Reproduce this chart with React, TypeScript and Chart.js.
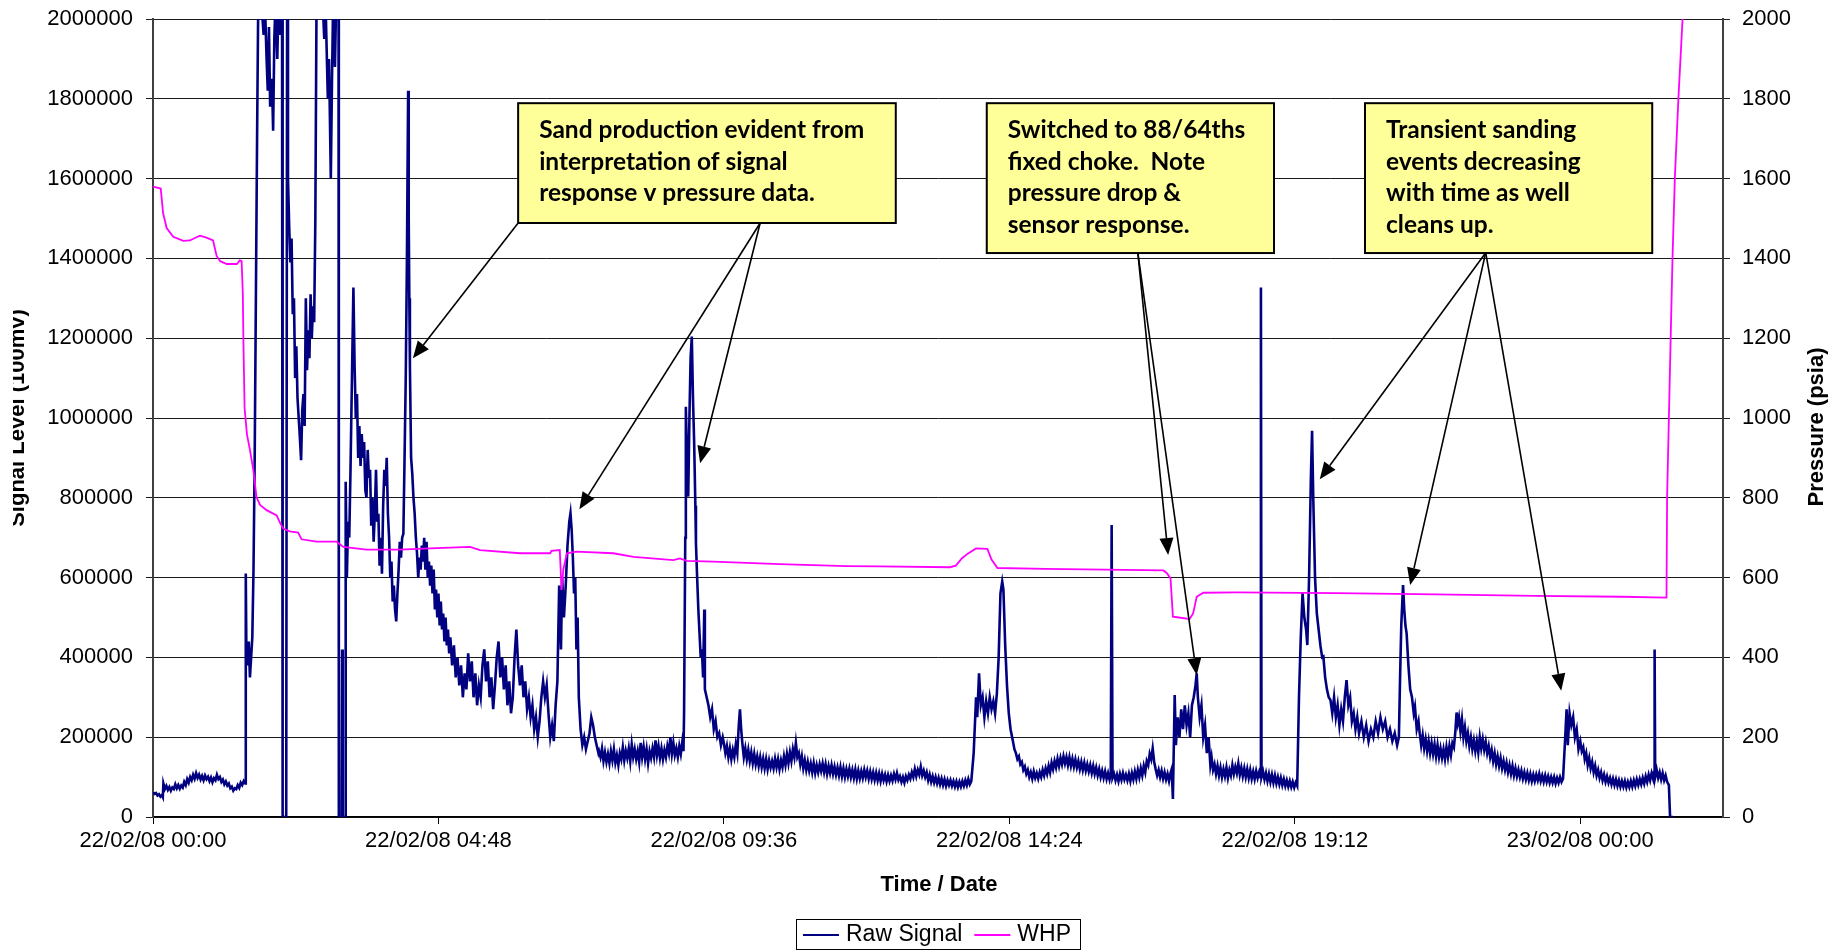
import React, { useEffect, useRef } from 'react';
import { Chart, registerables } from 'chart.js';

Chart.register(...registerables);

// x values are hours after 22/02/08 00:00
const xTickHours = [0, 4.8, 9.6, 14.4, 19.2, 24];
const xTickLabels = ['22/02/08 00:00', '22/02/08 04:48', '22/02/08 09:36', '22/02/08 14:24', '22/02/08 19:12', '23/02/08 00:00'];

// Raw Signal [hours, signal level (100mV)], split into time segments
const signalEarly: [number, number][] = [
  [0.000, 62000], [0.025, 58000], [0.050, 60000], [0.075, 54000], [0.100, 57000], [0.125, 51000], [0.150, 55000], [0.165, 50000],
  [0.175, 84000], [0.200, 70000], [0.225, 78000], [0.250, 68000], [0.275, 75000], [0.300, 66000], [0.325, 74000], [0.350, 70000],
  [0.375, 82000], [0.400, 72000], [0.425, 80000], [0.450, 71000], [0.475, 79000], [0.500, 74000], [0.525, 88000], [0.550, 80000],
  [0.575, 95000], [0.600, 86000], [0.625, 100000], [0.650, 92000], [0.675, 106000], [0.700, 96000], [0.725, 110000], [0.750, 98000],
  [0.775, 106000], [0.800, 94000], [0.825, 103000], [0.850, 92000], [0.875, 104000], [0.900, 95000], [0.925, 101000], [0.950, 90000],
  [0.975, 99000], [1.000, 87000], [1.025, 97000], [1.050, 92000], [1.075, 106000], [1.100, 95000], [1.125, 100000], [1.150, 88000],
  [1.175, 94000], [1.200, 82000], [1.225, 89000], [1.250, 79000], [1.275, 84000], [1.300, 72000], [1.325, 76000], [1.350, 66000],
  [1.375, 72000], [1.400, 70000], [1.425, 80000], [1.450, 73000], [1.475, 86000], [1.500, 80000], [1.525, 90000], [1.550, 84000],
];

const signalSurge: [number, number][] = [
  [1.56, 610000], [1.57, 420000], [1.59, 380000], [1.61, 440000], [1.63, 350000], [1.65, 400000], [1.67, 450000],
  [1.69, 620000], [1.71, 900000], [1.73, 1300000], [1.75, 1700000], [1.77, 2050000], [1.82, 2050000], [1.86, 1960000], [1.88, 2050000],
  [1.91, 1900000], [1.93, 1820000], [1.95, 1980000], [1.97, 1780000], [2.00, 1850000], [2.02, 1720000], [2.04, 1950000], [2.06, 2050000],
  [2.09, 1900000], [2.11, 2050000], [2.14, 1960000], [2.17, 2050000], [2.18, 0], [2.24, 0], [2.255, 2050000], [2.27, 1600000],
  [2.29, 1480000], [2.31, 1390000], [2.33, 1450000], [2.35, 1260000], [2.37, 1300000], [2.39, 1100000], [2.41, 1180000], [2.43, 1050000],
  [2.45, 1000000], [2.47, 950000], [2.49, 894000], [2.51, 1020000], [2.53, 1060000], [2.55, 980000], [2.57, 1300000], [2.59, 1120000],
  [2.61, 1220000], [2.63, 1150000], [2.65, 1310000], [2.67, 1200000], [2.69, 1280000], [2.71, 1240000], [2.73, 1500000], [2.75, 2050000],
  [2.85, 2050000], [2.88, 1950000], [2.90, 2050000], [2.94, 1800000], [2.96, 1900000], [2.99, 1600000], [3.01, 1850000], [3.03, 2050000],
  [3.06, 1880000], [3.08, 2050000], [3.12, 2050000], [3.125, 0], [3.17, 0], [3.18, 420000], [3.19, 0], [3.23, 0],
  [3.24, 840000], [3.26, 600000], [3.28, 740000], [3.30, 700000], [3.32, 860000], [3.34, 1050000], [3.37, 1327000], [3.39, 1130000],
  [3.41, 1000000], [3.43, 1060000], [3.45, 900000], [3.47, 980000], [3.49, 880000], [3.51, 960000], [3.53, 900000], [3.55, 940000],
  [3.57, 820000], [3.59, 800000], [3.61, 920000], [3.63, 850000], [3.65, 870000], [3.67, 730000], [3.69, 800000], [3.71, 690000],
  [3.73, 760000], [3.75, 870000], [3.77, 740000], [3.79, 760000], [3.81, 630000], [3.83, 700000], [3.85, 610000], [3.87, 780000],
  [3.89, 870000], [3.91, 830000], [3.93, 900000], [3.95, 760000], [3.97, 700000], [3.99, 600000], [4.01, 640000], [4.03, 540000],
  [4.05, 580000], [4.07, 520000], [4.09, 490000], [4.11, 560000], [4.13, 620000], [4.15, 690000], [4.17, 650000], [4.19, 700000],
  [4.21, 710000], [4.23, 900000], [4.25, 1100000], [4.27, 1400000], [4.29, 1820000], [4.30, 1500000], [4.31, 1300000], [4.32, 1130000],
  [4.34, 900000], [4.36, 860000], [4.38, 800000], [4.40, 760000], [4.42, 700000], [4.44, 660000], [4.46, 600000], [4.48, 650000],
  [4.50, 620000], [4.52, 680000], [4.54, 640000], [4.56, 700000], [4.58, 620000], [4.60, 690000], [4.62, 600000], [4.64, 640000],
  [4.66, 580000], [4.68, 630000], [4.70, 560000], [4.72, 620000], [4.74, 520000], [4.76, 570000], [4.78, 500000], [4.80, 560000],
  [4.82, 480000], [4.84, 540000], [4.86, 470000], [4.88, 510000], [4.90, 440000], [4.92, 500000], [4.94, 430000], [4.96, 470000],
  [4.98, 410000], [5.00, 450000], [5.03, 380000], [5.06, 430000], [5.09, 350000], [5.12, 400000], [5.15, 330000], [5.18, 380000],
  [5.21, 300000], [5.24, 360000], [5.27, 320000], [5.30, 410000], [5.33, 340000], [5.36, 390000], [5.39, 300000], [5.42, 360000],
  [5.45, 280000], [5.48, 330000], [5.51, 300000], [5.54, 380000], [5.57, 420000], [5.60, 340000], [5.63, 390000], [5.66, 300000],
  [5.69, 350000], [5.72, 270000], [5.75, 330000], [5.78, 400000], [5.81, 440000], [5.84, 350000], [5.87, 400000], [5.90, 320000],
  [5.93, 380000], [5.96, 280000], [5.99, 340000], [6.02, 260000], [6.05, 300000], [6.08, 400000], [6.11, 470000], [6.14, 380000],
  [6.17, 330000], [6.20, 380000], [6.23, 300000], [6.26, 340000], [6.29, 270000], [6.32, 300000], [6.35, 250000], [6.38, 280000],
  [6.41, 220000], [6.44, 250000], [6.47, 200000], [6.50, 240000], [6.53, 300000], [6.56, 340000], [6.59, 300000], [6.62, 330000],
  [6.65, 260000], [6.68, 200000], [6.71, 230000], [6.74, 190000], [6.77, 280000], [6.80, 340000], [6.83, 580000], [6.86, 420000],
  [6.88, 600000], [6.91, 500000], [6.94, 580000], [6.97, 680000], [7.00, 740000], [7.02, 761000], [7.04, 720000], [7.06, 650000],
  [7.08, 560000], [7.10, 600000], [7.12, 420000], [7.14, 500000], [7.16, 300000], [7.19, 220000], [7.22, 180000], [7.25, 200000],
  [7.28, 170000], [7.31, 190000], [7.34, 210000], [7.37, 250000], [7.40, 230000], [7.43, 200000], [7.46, 180000], [7.49, 160000],
];

const signalMorning: [number, number][] = [
  [7.500, 165000], [7.525, 150000], [7.550, 172000], [7.575, 140000], [7.600, 162000], [7.625, 138000], [7.650, 158000], [7.675, 135000],
  [7.700, 165000], [7.725, 142000], [7.750, 170000], [7.775, 136000], [7.800, 155000], [7.825, 130000], [7.850, 160000], [7.875, 145000],
  [7.900, 175000], [7.925, 142000], [7.950, 166000], [7.975, 148000], [8.000, 172000], [8.025, 140000], [8.050, 182000], [8.075, 150000],
  [8.100, 170000], [8.125, 145000], [8.150, 165000], [8.175, 138000], [8.200, 186000], [8.225, 150000], [8.250, 176000], [8.275, 145000],
  [8.300, 170000], [8.325, 135000], [8.350, 165000], [8.375, 148000], [8.400, 172000], [8.425, 150000], [8.450, 192000], [8.475, 155000],
  [8.500, 178000], [8.525, 148000], [8.550, 172000], [8.575, 145000], [8.600, 168000], [8.625, 150000], [8.650, 178000], [8.675, 160000],
  [8.700, 200000], [8.725, 158000], [8.750, 186000], [8.775, 155000], [8.800, 172000], [8.825, 150000], [8.850, 178000], [8.875, 158000],
  [8.900, 188000], [8.920, 165000], [8.93, 260000], [8.95, 700000], [8.96, 1028000], [8.98, 900000],
  [9.00, 803000], [9.02, 1000000], [9.04, 1150000], [9.06, 1204000], [9.08, 1050000], [9.10, 936000], [9.12, 780000], [9.13, 686000],
  [9.15, 600000], [9.17, 520000], [9.19, 460000], [9.21, 400000], [9.23, 420000], [9.25, 350000], [9.27, 520000], [9.28, 320000],
  [9.31, 300000], [9.34, 280000], [9.37, 250000], [9.40, 270000], [9.43, 220000], [9.46, 240000], [9.49, 200000], [9.52, 210000],
  [9.55, 180000], [9.58, 200000],
];

const signalMidday: [number, number][] = [
  [9.600, 185000], [9.625, 160000], [9.650, 178000], [9.675, 150000], [9.700, 172000], [9.725, 145000], [9.750, 168000], [9.775, 150000],
  [9.800, 182000], [9.825, 160000], [9.850, 230000], [9.870, 270000], [9.890, 220000], [9.910, 185000], [9.935, 150000], [9.960, 172000],
  [9.985, 145000], [10.010, 168000], [10.035, 140000], [10.060, 162000], [10.085, 135000], [10.110, 158000], [10.135, 132000], [10.160, 152000],
  [10.185, 128000], [10.210, 150000], [10.235, 125000], [10.260, 146000], [10.285, 122000], [10.310, 145000], [10.335, 120000], [10.360, 142000],
  [10.385, 124000], [10.410, 140000], [10.435, 122000], [10.460, 146000], [10.485, 125000], [10.510, 145000], [10.535, 120000], [10.560, 142000],
  [10.585, 125000], [10.610, 152000], [10.635, 130000], [10.660, 158000], [10.685, 135000], [10.710, 162000], [10.735, 140000], [10.760, 170000],
  [10.785, 150000], [10.810, 186000], [10.835, 150000], [10.860, 160000], [10.885, 132000], [10.910, 152000], [10.935, 122000], [10.960, 142000],
  [10.985, 118000], [11.010, 138000], [11.035, 116000], [11.060, 134000], [11.085, 112000], [11.110, 135000], [11.135, 110000], [11.160, 130000],
  [11.185, 112000], [11.210, 132000], [11.235, 115000], [11.260, 134000], [11.285, 112000], [11.310, 132000], [11.335, 108000], [11.360, 128000],
  [11.385, 110000], [11.410, 130000], [11.435, 108000], [11.460, 126000], [11.485, 106000], [11.510, 124000], [11.535, 104000], [11.560, 125000],
  [11.585, 102000], [11.610, 122000], [11.635, 100000], [11.660, 120000], [11.685, 102000], [11.710, 121000], [11.735, 100000], [11.760, 118000],
  [11.785, 98000], [11.810, 119000], [11.835, 96000], [11.860, 116000], [11.885, 97000], [11.910, 115000], [11.935, 98000], [11.960, 118000],
  [11.985, 100000], [12.010, 116000], [12.035, 96000], [12.060, 114000], [12.085, 95000], [12.110, 112000], [12.135, 93000], [12.160, 111000],
  [12.185, 92000], [12.210, 109000], [12.235, 90000], [12.260, 108000], [12.285, 92000], [12.310, 106000], [12.335, 89000], [12.360, 105000],
  [12.385, 90000], [12.410, 104000], [12.435, 91000], [12.460, 108000], [12.485, 94000], [12.510, 110000], [12.535, 93000], [12.560, 102000],
  [12.585, 88000], [12.610, 100000], [12.635, 86000], [12.660, 102000], [12.685, 92000], [12.710, 106000], [12.735, 96000], [12.760, 112000],
  [12.785, 100000], [12.810, 120000], [12.835, 102000], [12.860, 118000], [12.885, 106000], [12.910, 126000], [12.935, 104000], [12.960, 116000],
  [12.985, 100000], [13.010, 112000], [13.035, 92000], [13.060, 106000], [13.085, 88000], [13.110, 102000], [13.135, 86000], [13.160, 100000],
  [13.185, 84000], [13.210, 98000], [13.235, 82000], [13.260, 96000], [13.285, 80000], [13.310, 94000], [13.335, 78000], [13.360, 92000],
  [13.385, 80000], [13.410, 92000], [13.435, 78000], [13.460, 90000], [13.485, 76000], [13.510, 89000], [13.535, 75000], [13.560, 88000],
  [13.585, 76000], [13.610, 90000], [13.635, 78000], [13.660, 92000], [13.685, 80000], [13.710, 95000], [13.735, 82000], [13.760, 90000],
  [13.80, 160000], [13.84, 300000], [13.86, 250000], [13.89, 360000], [13.92, 280000], [13.95, 300000], [13.98, 250000], [14.01, 290000],
  [14.04, 260000], [14.07, 300000], [14.10, 270000], [14.13, 290000], [14.16, 260000], [14.19, 310000], [14.22, 400000], [14.25, 560000],
  [14.28, 590000], [14.30, 570000], [14.33, 430000], [14.36, 330000], [14.39, 260000], [14.42, 220000],
];

const signalAfternoon: [number, number][] = [
  [14.460, 190000], [14.485, 170000], [14.510, 160000], [14.535, 145000], [14.560, 152000], [14.585, 132000], [14.610, 138000], [14.635, 118000],
  [14.660, 126000], [14.685, 108000], [14.710, 118000], [14.735, 100000], [14.760, 112000], [14.785, 96000], [14.810, 114000], [14.835, 98000],
  [14.860, 110000], [14.885, 96000], [14.910, 112000], [14.935, 100000], [14.960, 118000], [14.985, 104000], [15.010, 122000], [15.035, 108000],
  [15.060, 128000], [15.085, 112000], [15.110, 136000], [15.135, 120000], [15.160, 140000], [15.185, 124000], [15.210, 146000], [15.235, 128000],
  [15.260, 148000], [15.285, 132000], [15.310, 152000], [15.335, 134000], [15.360, 150000], [15.385, 130000], [15.410, 150000], [15.435, 128000],
  [15.460, 146000], [15.485, 126000], [15.510, 144000], [15.535, 124000], [15.560, 140000], [15.585, 120000], [15.610, 138000], [15.635, 118000],
  [15.660, 136000], [15.685, 116000], [15.710, 132000], [15.735, 114000], [15.760, 130000], [15.785, 110000], [15.810, 128000], [15.835, 108000],
  [15.860, 124000], [15.885, 104000], [15.910, 120000], [15.935, 100000], [15.960, 116000], [15.985, 98000], [16.010, 114000], [16.035, 95000],
  [16.060, 110000], [16.085, 94000], [16.105, 108000], [16.120, 732000], [16.135, 98000], [16.160, 108000], [16.185, 92000], [16.210, 106000],
  [16.235, 90000], [16.260, 108000], [16.285, 93000], [16.310, 110000], [16.335, 94000], [16.360, 106000], [16.385, 92000], [16.410, 108000],
  [16.435, 90000], [16.460, 110000], [16.485, 94000], [16.510, 114000], [16.535, 96000], [16.560, 118000], [16.585, 100000], [16.610, 122000],
  [16.635, 104000], [16.660, 128000], [16.685, 112000], [16.710, 140000], [16.735, 130000], [16.760, 158000], [16.785, 145000], [16.810, 172000],
  [16.835, 138000], [16.860, 120000], [16.885, 104000], [16.910, 118000], [16.935, 100000], [16.960, 116000], [16.985, 96000], [17.010, 112000],
  [17.035, 94000], [17.060, 108000], [17.085, 90000], [17.110, 110000], [17.130, 120000], [17.150, 45000], [17.180, 306000],
  [17.20, 180000], [17.23, 250000], [17.26, 200000], [17.29, 270000], [17.32, 220000], [17.35, 280000], [17.38, 230000], [17.41, 260000],
  [17.44, 200000], [17.47, 280000], [17.50, 300000], [17.53, 330000], [17.55, 360000], [17.57, 300000], [17.60, 250000], [17.63, 280000],
  [17.66, 200000], [17.69, 230000], [17.72, 160000], [17.75, 200000], [17.78, 130000],
  [17.800, 150000], [17.825, 118000], [17.850, 132000], [17.875, 108000], [17.900, 128000], [17.925, 104000], [17.950, 124000], [17.975, 100000],
  [18.000, 120000], [18.025, 102000], [18.050, 124000], [18.075, 98000], [18.100, 118000], [18.125, 104000], [18.150, 130000], [18.175, 108000],
  [18.200, 126000], [18.225, 110000], [18.250, 134000], [18.275, 106000], [18.300, 124000], [18.325, 102000], [18.350, 122000], [18.375, 100000],
  [18.400, 120000], [18.425, 98000], [18.450, 118000], [18.475, 96000], [18.500, 114000], [18.525, 95000], [18.550, 115000], [18.575, 98000],
  [18.600, 112000], [18.620, 100000], [18.630, 1327000], [18.640, 100000], [18.665, 114000], [18.690, 94000], [18.715, 110000], [18.740, 90000],
  [18.765, 108000], [18.790, 88000], [18.815, 106000], [18.840, 86000], [18.865, 104000], [18.890, 84000], [18.915, 100000], [18.940, 82000],
  [18.965, 98000], [18.990, 80000], [19.015, 95000], [19.040, 78000], [19.065, 92000], [19.090, 76000], [19.115, 90000], [19.140, 75000],
  [19.165, 88000], [19.190, 74000], [19.215, 86000], [19.240, 78000],
];

const signalEvening: [number, number][] = [
  [19.27, 300000], [19.30, 450000], [19.33, 561000], [19.36, 500000], [19.39, 470000], [19.41, 431000], [19.44, 600000], [19.47, 850000],
  [19.49, 968000], [19.51, 800000], [19.54, 600000], [19.57, 510000], [19.60, 470000], [19.63, 430000], [19.66, 400000], [19.68, 402000],
  [19.71, 350000], [19.74, 320000], [19.77, 300000], [19.80, 293000], [19.83, 260000], [19.86, 300000], [19.89, 250000], [19.92, 280000],
  [19.95, 230000], [19.98, 270000], [20.01, 240000], [20.04, 300000], [20.07, 343000], [20.10, 280000], [20.13, 300000], [20.16, 240000],
  [20.19, 260000], [20.22, 220000], [20.25, 250000], [20.28, 210000], [20.32, 240000], [20.36, 200000], [20.40, 230000], [20.44, 190000],
  [20.48, 220000], [20.52, 200000], [20.56, 240000], [20.60, 210000], [20.64, 250000], [20.68, 220000], [20.72, 240000], [20.76, 200000],
  [20.80, 220000], [20.84, 190000], [20.88, 210000], [20.92, 180000], [20.95, 200000], [20.97, 350000], [20.99, 480000], [21.02, 581000],
  [21.04, 520000], [21.06, 480000], [21.08, 460000], [21.11, 380000], [21.14, 320000], [21.17, 300000], [21.20, 260000], [21.22, 276000],
  [21.25, 220000], [21.28, 240000],
  [21.300, 210000], [21.325, 180000], [21.350, 205000], [21.375, 172000], [21.400, 195000], [21.425, 165000], [21.450, 190000], [21.475, 160000],
  [21.500, 185000], [21.525, 158000], [21.550, 182000], [21.575, 152000], [21.600, 180000], [21.625, 150000], [21.650, 172000], [21.675, 148000],
  [21.700, 170000], [21.725, 145000], [21.750, 175000], [21.775, 150000], [21.800, 178000], [21.825, 155000], [21.850, 185000], [21.875, 175000],
  [21.900, 215000], [21.920, 262000], [21.940, 235000], [21.960, 250000], [21.985, 215000], [22.010, 245000], [22.035, 200000], [22.060, 225000],
  [22.085, 190000], [22.110, 210000], [22.135, 178000], [22.160, 200000], [22.185, 170000], [22.210, 192000], [22.235, 165000], [22.260, 190000],
  [22.285, 162000], [22.310, 200000], [22.335, 172000], [22.360, 195000], [22.385, 168000], [22.410, 188000], [22.435, 160000], [22.460, 178000],
  [22.485, 150000], [22.510, 168000], [22.535, 140000], [22.560, 160000], [22.585, 132000], [22.610, 152000], [22.635, 128000], [22.660, 148000],
  [22.685, 122000], [22.710, 140000], [22.735, 118000], [22.760, 136000], [22.785, 112000], [22.810, 130000], [22.835, 108000], [22.860, 128000],
  [22.885, 104000], [22.910, 122000], [22.935, 102000], [22.960, 118000], [22.985, 100000], [23.010, 116000], [23.035, 96000], [23.060, 112000],
  [23.085, 94000], [23.110, 110000], [23.135, 92000], [23.160, 108000], [23.185, 90000], [23.210, 106000], [23.235, 90000], [23.260, 106000],
  [23.285, 92000], [23.310, 108000], [23.335, 90000], [23.360, 104000], [23.385, 88000], [23.410, 104000], [23.435, 88000], [23.460, 102000],
  [23.485, 86000], [23.510, 100000], [23.535, 86000], [23.560, 100000], [23.585, 84000], [23.610, 98000], [23.635, 86000], [23.660, 100000],
  [23.685, 88000], [23.710, 96000],
  [23.74, 180000], [23.77, 270000], [23.79, 180000], [23.82, 260000], [23.85, 230000], [23.88, 250000], [23.91, 200000], [23.94, 220000],
  [23.97, 170000],
  [24.000, 190000], [24.025, 165000], [24.050, 175000], [24.075, 145000], [24.100, 160000], [24.125, 130000], [24.150, 148000], [24.175, 122000],
  [24.200, 138000], [24.225, 112000], [24.250, 128000], [24.275, 104000], [24.300, 118000], [24.325, 98000], [24.350, 112000], [24.375, 92000],
  [24.400, 106000], [24.425, 88000], [24.450, 102000], [24.475, 86000], [24.500, 98000], [24.525, 82000], [24.550, 96000], [24.575, 80000],
  [24.600, 94000], [24.625, 78000], [24.650, 92000], [24.675, 76000], [24.700, 90000], [24.725, 76000], [24.750, 90000], [24.775, 74000],
  [24.800, 88000], [24.825, 75000], [24.850, 90000], [24.875, 76000], [24.900, 92000], [24.925, 78000], [24.950, 94000], [24.975, 80000],
  [25.000, 95000], [25.025, 82000], [25.050, 98000], [25.075, 84000], [25.100, 102000], [25.125, 88000], [25.150, 106000], [25.175, 92000],
  [25.200, 110000], [25.225, 96000], [25.240, 112000], [25.250, 420000], [25.260, 100000], [25.285, 118000], [25.310, 98000], [25.335, 112000],
  [25.360, 94000], [25.385, 110000], [25.410, 92000], [25.435, 104000], [25.460, 88000], [25.490, 80000], [25.51, 0], [25.56, 0],
];

// WHP [hours, pressure (psia)]
const whp: [number, number][] = [
  [0.00, 1580], [0.13, 1575], [0.17, 1513], [0.23, 1476], [0.34, 1454], [0.51, 1444], [0.62, 1445], [0.73, 1453],
  [0.79, 1457], [0.90, 1452], [1.01, 1445], [1.07, 1406], [1.13, 1393], [1.24, 1386], [1.41, 1386], [1.46, 1395],
  [1.49, 1393], [1.51, 1314], [1.52, 1196], [1.54, 1025], [1.58, 959], [1.63, 920], [1.69, 867], [1.74, 802],
  [1.80, 782], [1.91, 769], [2.08, 756], [2.14, 736], [2.19, 723], [2.30, 716], [2.44, 713], [2.50, 696],
  [2.75, 690], [3.09, 690], [3.20, 677], [3.59, 670], [4.15, 670], [4.66, 673], [5.33, 677], [5.50, 669],
  [6.17, 661], [6.68, 661], [6.70, 667], [6.84, 669], [6.87, 569], [6.90, 620], [6.96, 661], [7.12, 665],
  [7.74, 661], [8.08, 652], [8.75, 644], [8.86, 648], [8.97, 642], [9.42, 640], [10.54, 634], [11.66, 629],
  [12.22, 628], [13.40, 626], [13.50, 630], [13.60, 648], [13.70, 660], [13.84, 673], [14.03, 672], [14.10, 645],
  [14.20, 624], [15.00, 622], [16.00, 620], [16.99, 618], [17.05, 611], [17.11, 598], [17.15, 502], [17.25, 500],
  [17.43, 496], [17.49, 510], [17.55, 552], [17.66, 562], [18.21, 563], [19.89, 561], [21.57, 558], [23.25, 554],
  [24.70, 552], [25.45, 550], [25.46, 800], [25.49, 1000], [25.52, 1200], [25.55, 1395], [25.59, 1600], [25.65, 1800],
  [25.72, 2000],
];

const rawSignal: [number, number][] = [
  ...signalEarly, ...signalSurge, ...signalMorning, ...signalMidday, ...signalAfternoon, ...signalEvening,
];

// Call-out notes: text, box corners and arrow tips in data units (hours, signal level)
const notes = [
  {
    lines: ['Sand production evident from', 'interpretation of signal', 'response v pressure data.'],
    box: [6.14, 1789000, 12.49, 1488700],
    arrows: [[6.14, 1488700, 4.37, 1149600], [10.21, 1488700, 7.17, 771200], [10.21, 1488700, 9.20, 886500]],
  },
  {
    lines: ['Switched to 88/64ths', 'fixed choke.  Note', 'pressure drop &', 'sensor response.'],
    box: [14.02, 1789000, 18.85, 1413400],
    arrows: [[16.56, 1414300, 17.07, 656600], [16.56, 1414300, 17.55, 355900]],
  },
  {
    lines: ['Transient sanding', 'events decreasing', 'with time as well', 'cleans up.'],
    box: [20.38, 1789000, 25.21, 1413400],
    arrows: [[22.41, 1414300, 19.62, 846400], [22.41, 1414300, 21.14, 581500], [22.41, 1414300, 23.68, 316500]],
  },
];

const AXIS_FONT = '"Liberation Sans", Arial, Helvetica, sans-serif';
const NOTE_FONT = 'bold 24.5px Lato, "Open Sans", sans-serif';

function drawArrow(ctx: CanvasRenderingContext2D, x0: number, y0: number, x1: number, y1: number) {
  const ang = Math.atan2(y1 - y0, x1 - x0);
  const len = 17;
  const half = 7;
  const bx = x1 - len * Math.cos(ang);
  const by = y1 - len * Math.sin(ang);
  ctx.beginPath();
  ctx.moveTo(x0, y0);
  ctx.lineTo(bx, by);
  ctx.stroke();
  ctx.beginPath();
  ctx.moveTo(x1, y1);
  ctx.lineTo(bx + half * Math.sin(ang), by - half * Math.cos(ang));
  ctx.lineTo(bx - half * Math.sin(ang), by + half * Math.cos(ang));
  ctx.closePath();
  ctx.fill();
}

const decorPlugin = {
  id: 'decor',
  afterDraw(chart: any) {
    const ctx: CanvasRenderingContext2D = chart.ctx;
    const xs = chart.scales.x;
    const ys = chart.scales.y;
    const area = chart.chartArea;
    const midY = (area.top + area.bottom) / 2;
    const midX = (area.left + area.right) / 2;

    // notes: arrows first, then boxes
    ctx.save();
    ctx.strokeStyle = '#000';
    ctx.fillStyle = '#000';
    ctx.lineWidth = 1.6;
    notes.forEach((n) => {
      n.arrows.forEach((a) => {
        drawArrow(ctx, xs.getPixelForValue(a[0]), ys.getPixelForValue(a[1]), xs.getPixelForValue(a[2]), ys.getPixelForValue(a[3]));
      });
    });
    notes.forEach((n) => {
      const l = xs.getPixelForValue(n.box[0]);
      const t = ys.getPixelForValue(n.box[1]);
      const r = xs.getPixelForValue(n.box[2]);
      const b = ys.getPixelForValue(n.box[3]);
      ctx.fillStyle = '#FFFF99';
      ctx.fillRect(l, t, r - l, b - t);
      ctx.lineWidth = 2;
      ctx.strokeStyle = '#000';
      ctx.strokeRect(l, t, r - l, b - t);
      ctx.fillStyle = '#000';
      ctx.font = NOTE_FONT;
      ctx.textBaseline = 'middle';
      ctx.textAlign = 'left';
      n.lines.forEach((line, i) => {
        ctx.fillText(line, l + 21, t + 27 + i * 31.7);
      });
    });
    ctx.restore();

    // axis titles
    ctx.save();
    ctx.fillStyle = '#000';
    ctx.font = 'bold 22px ' + AXIS_FONT;
    ctx.textAlign = 'center';
    ctx.textBaseline = 'middle';
    ctx.fillText('Time / Date', midX + 1, 885);
    ctx.textBaseline = 'alphabetic';
    ctx.save();
    ctx.beginPath();
    ctx.rect(13, 0, chart.width, chart.height);
    ctx.clip();
    ctx.translate(24, midY);
    ctx.rotate(-Math.PI / 2);
    ctx.fillText('Signal Level (100mv)', 0, 0);
    ctx.restore();
    ctx.save();
    ctx.translate(1823, midY + 9);
    ctx.rotate(-Math.PI / 2);
    ctx.fillText('Pressure (psia)', 0, 0);
    ctx.restore();
    ctx.restore();

    // legend
    ctx.save();
    ctx.font = '23px ' + AXIS_FONT;
    const items = chart.data.datasets.map((d: any) => ({ label: d.label, color: d.borderColor, w: ctx.measureText(d.label).width }));
    const sample = 36;
    const total = 7 + items.reduce((s: number, it: any) => s + sample + 7 + it.w, 0) + 12 * (items.length - 1) + 9;
    const left = midX - total / 2;
    const top = 919;
    const h = 30;
    ctx.strokeStyle = '#000';
    ctx.lineWidth = 1;
    ctx.strokeRect(Math.round(left) + 0.5, top + 0.5, Math.round(total), h);
    let x = left + 7;
    const cy = top + h / 2 + 1;
    ctx.textBaseline = 'middle';
    ctx.textAlign = 'left';
    items.forEach((it: any) => {
      ctx.strokeStyle = it.color;
      ctx.lineWidth = 2;
      ctx.beginPath();
      ctx.moveTo(x, cy);
      ctx.lineTo(x + sample, cy);
      ctx.stroke();
      x += sample + 7;
      ctx.fillStyle = '#000';
      ctx.fillText(it.label, x, cy);
      x += it.w + 12;
    });
    ctx.restore();
  },
};

export default function App() {
  const ref = useRef<HTMLCanvasElement>(null);
  useEffect(() => {
    document.body.style.margin = '0';
    const tickFont = { family: AXIS_FONT, size: 22 };
    const chart = new Chart(ref.current as HTMLCanvasElement, {
      type: 'line',
      data: {
        datasets: [
          {
            label: 'Raw Signal',
            data: rawSignal.map(([x, y]) => ({ x, y })),
            yAxisID: 'y',
            borderColor: '#000080',
            backgroundColor: '#000080',
            borderWidth: 2.6,
            pointRadius: 0,
            tension: 0,
            clip: 0,
            order: 1,
          },
          {
            label: 'WHP',
            data: whp.map(([x, y]) => ({ x, y })),
            yAxisID: 'y1',
            borderColor: '#FF00FF',
            backgroundColor: '#FF00FF',
            borderWidth: 1.8,
            pointRadius: 0,
            tension: 0,
            clip: 0,
            order: 0,
          },
        ],
      },
      options: {
        responsive: false,
        animation: false,
        devicePixelRatio: 1,
        layout: { padding: { top: 19, left: 0, right: 0, bottom: 0 } },
        plugins: { legend: { display: false }, tooltip: { enabled: false } },
        scales: {
          x: {
            type: 'linear',
            min: 0,
            max: 26.4,
            afterBuildTicks: (scale: any) => {
              scale.ticks = xTickHours.map((v) => ({ value: v }));
            },
            afterFit: (scale: any) => {
              scale.height = 134;
            },
            ticks: {
              callback: (_v: any, i: number) => xTickLabels[i],
              font: tickFont,
              color: '#000',
              padding: 4,
              maxRotation: 0,
              autoSkip: false,
            },
            grid: { drawOnChartArea: false, drawTicks: true, tickLength: 7, color: '#000', lineWidth: 1 },
            border: { display: true, color: '#000', width: 1.5 },
          },
          y: {
            type: 'linear',
            position: 'left',
            min: 0,
            max: 2000000,
            afterFit: (scale: any) => {
              scale.width = 153;
              scale.paddingTop = 0;
              scale.paddingBottom = 0;
            },
            ticks: { stepSize: 200000, callback: (v: any) => String(v), font: tickFont, color: '#000', padding: 13 },
            grid: { color: '#1a1a1a', lineWidth: 1, tickLength: 7 },
            border: { display: true, color: '#404040', width: 2 },
          },
          y1: {
            type: 'linear',
            position: 'right',
            min: 0,
            max: 2000,
            afterFit: (scale: any) => {
              scale.width = 115;
              scale.paddingTop = 0;
              scale.paddingBottom = 0;
            },
            ticks: { stepSize: 200, callback: (v: any) => String(v), font: tickFont, color: '#000', padding: 12 },
            grid: { drawOnChartArea: false, color: '#1a1a1a', lineWidth: 1, tickLength: 7 },
            border: { display: true, color: '#404040', width: 2 },
          },
        },
      },
      plugins: [decorPlugin],
    } as any);
    return () => chart.destroy();
  }, []);
  return (
    <div style={{ width: 1838, height: 951, position: 'relative' }}>
      <canvas ref={ref} width={1838} height={951} style={{ display: 'block' }} />
    </div>
  );
}
